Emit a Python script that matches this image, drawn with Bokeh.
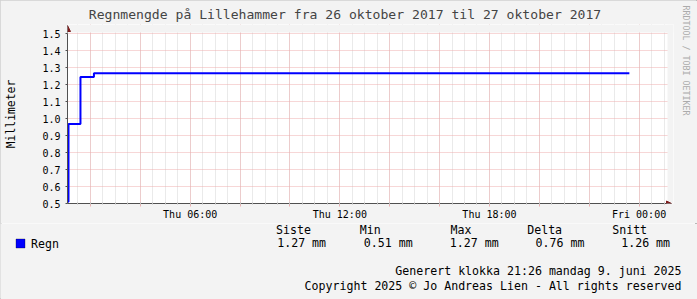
from bokeh.plotting import figure
from bokeh.layouts import column
from bokeh.models import (Range1d, FixedTicker, PrintfTickFormatter, Grid, Title, Label,
                          BoxAnnotation, Arrow, NormalHead, ColumnDataSource)
from bokeh.embed import file_html
from bokeh.resources import INLINE

# ---------------- data ----------------
title = "Regnmengde på Lillehammer fra 26 oktober 2017 til 27 oktober 2017"
y_label = "Millimeter"
series_name = "Regn"
# hours after Thu 26 Oct 2017 00:00
times = [1.08, 1.12, 1.60, 2.14, 23.61]
rain = [0.51, 0.968, 1.244, 1.266, 1.266]
x_start, x_end = 1.08, 25.1
y_start, y_end = 0.5, 1.5
x_label_ticks = [6, 12, 18, 24]
x_tick_labels = ["Thu 06:00", "Thu 12:00", "Thu 18:00", "Fri 00:00"]
x_major_ticks = [2, 4, 6, 8, 10, 12, 14, 16, 18, 20, 22, 24]
x_minor_ticks = [1.5 + 0.5 * i for i in range(48)]
y_ticks = [0.5, 0.6, 0.7, 0.8, 0.9, 1.0, 1.1, 1.2, 1.3, 1.4, 1.5]
stat_headers = ["Siste", "Min", "Max", "Delta", "Snitt"]
stat_values = [1.27, 0.51, 1.27, 0.76, 1.26]
stat_unit = "mm"
generated = "Generert klokka 21:26 mandag 9. juni 2025"
copyright_text = "Copyright 2025 © Jo Andreas Lien - All rights reserved"
watermark = "RRDTOOL / TOBI OETIKER"

# ---------------- layout ----------------
W = 697
H1, H2 = 223, 76
PL, PR, PT, PB = 67, 668, 33, 203        # white plot area (canvas px)
FR, FT = 675, 24                          # extended frame right / top
FONT = "DejaVu Sans Mono"
BG = "#F3F3F3"
PINK = "#EFAEAE"
GREY = "#D4D4D4"
AXIS = "#505050"

xpx = (x_end - x_start) / (PR - PL)       # data units per px
ypx = (y_end - y_start) / (PB - PT)
xr_end = x_end + (FR - PR) * xpx
yr_end = y_end + (PT - FT) * ypx

p = figure(width=W, height=H1, output_backend="svg", toolbar_location=None,
           x_range=Range1d(x_start, xr_end), y_range=Range1d(y_start, yr_end),
           min_border_left=PL, min_border_right=W - FR,
           min_border_top=FT, min_border_bottom=H1 - PB)
p.border_fill_color = BG
p.background_fill_color = "white"
p.outline_line_color = None
p.grid.visible = False

p.title.text = title
p.title.text_font = FONT
p.title.text_font_size = "13.1px"
p.title.text_font_style = "normal"
p.title.align = "left"
p.title.offset = 88.3 - PL
p.title.vertical_align = "bottom"
p.title.standoff = 6

# axes
xa = p.xaxis[0]
xa.bounds = (x_start, x_end)
xa.ticker = FixedTicker(ticks=x_major_ticks, minor_ticks=x_minor_ticks)
overrides = {t: "" for t in x_major_ticks}
for t, lab in zip(x_label_ticks, x_tick_labels):
    overrides[t] = lab
xa.major_label_overrides = overrides
xa.axis_line_color = AXIS
xa.major_tick_line_color = PINK
xa.major_tick_in = 0
xa.major_tick_out = 3
xa.minor_tick_line_color = "#BBBBBB"
xa.minor_tick_in = 1
xa.minor_tick_out = 1
xa.major_label_standoff = 2
xa.major_label_text_font = FONT
xa.major_label_text_font_size = "10px"
xa.major_label_text_color = "black"

ya = p.yaxis[0]
ya.bounds = (y_start, y_end)
ya.ticker = FixedTicker(ticks=y_ticks, minor_ticks=[])
ya.formatter = PrintfTickFormatter(format="%.1f")
ya.axis_line_color = AXIS
ya.major_tick_line_color = AXIS
ya.major_tick_in = 0
ya.major_tick_out = 2
ya.minor_tick_line_color = None
ya.major_label_standoff = 5
ya.major_label_text_font = FONT
ya.major_label_text_font_size = "10px"
ya.major_label_text_color = "black"
ya.axis_label = y_label
ya.axis_label_text_font = FONT
ya.axis_label_text_font_size = "11.4px"
ya.axis_label_text_font_style = "normal"
ya.axis_label_text_color = "black"
ya.axis_label_standoff = 21

# watermark on the right
p.add_layout(Title(text=watermark, text_font=FONT, text_font_size="8.3px",
                   text_font_style="normal", text_color="#ABABAB",
                   align="left", offset=5 - FT, vertical_align="middle",
                   standoff=12), "right")

# grids
xg = Grid(dimension=0, ticker=FixedTicker(ticks=x_major_ticks, minor_ticks=x_minor_ticks),
          grid_line_color=PINK, grid_line_dash="1 1",
          minor_grid_line_color=GREY, minor_grid_line_dash="1 1")
yg = Grid(dimension=1, ticker=FixedTicker(ticks=y_ticks, minor_ticks=[]),
          grid_line_color=PINK, grid_line_dash="1 1")
p.add_layout(xg)
p.add_layout(yg)

# cover frame extension outside the white plot area
p.add_layout(BoxAnnotation(left=x_start, right=xr_end, bottom=y_end + 1.0 * ypx, top=yr_end,
                           fill_color=BG, fill_alpha=1, line_color=None, level="glyph"))
p.add_layout(BoxAnnotation(left=x_end + 1.0 * xpx, right=xr_end, bottom=y_start, top=yr_end,
                           fill_color=BG, fill_alpha=1, line_color=None, level="glyph"))

# series
src = ColumnDataSource(dict(t=times, v=rain))
p.step("t", "v", source=src, mode="after", line_color="#0000FF", line_width=2)

# axis arrows
arrow_col = "#7E1C1C"
p.add_layout(Arrow(end=NormalHead(size=5, fill_color=arrow_col, line_color=arrow_col),
                   x_start=x_end, y_start=y_start, x_end=x_end + 5 * xpx, y_end=y_start,
                   line_color=AXIS, line_width=1))
p.add_layout(Arrow(end=NormalHead(size=6, fill_color=arrow_col, line_color=arrow_col),
                   x_start=x_start, y_start=y_end, x_end=x_start, y_end=y_end + 8 * ypx,
                   line_color=AXIS, line_width=1))

# ---------------- legend / footer strip ----------------
q = figure(width=W, height=H2, output_backend="svg", toolbar_location=None,
           x_range=Range1d(0, W), y_range=Range1d(H2, 0),
           x_axis_type=None, y_axis_type=None, min_border=0)
q.border_fill_color = BG
q.background_fill_color = BG
q.outline_line_color = None
q.grid.visible = False
for fig in (p, q):
    try:
        fig.frame_align = False
    except Exception:
        pass


def label(cx, cy, text, size="11.6px", align="left", color="black"):
    q.add_layout(Label(x=cx, y=cy - H1, text=text, text_font=FONT, text_font_size=size,
                       text_align=align, text_baseline="middle", text_color=color))


q.add_layout(BoxAnnotation(left=15.5, right=24.5, top=238.5 - H1, bottom=247.5 - H1,
                           fill_color="#0000FF", fill_alpha=1, line_color="black",
                           line_width=1))
label(30.5, 243, series_name)
header_x = [275.5, 359.3, 450.0, 526.7, 611.7]
value_x = [276.7, 363.3, 449.3, 535.0, 620.7]
for hx, h in zip(header_x, stat_headers):
    label(hx, 229.5, h)
for vx, v in zip(value_x, stat_values):
    label(vx, 242.5, f"{v:.2f} {stat_unit}")
label(681, 270.5, generated, align="right")
label(681, 285.5, copyright_text, align="right")

layout = column(p, q, spacing=0)
layout.styles = {"outline": "2px outset #D0D0D0", "outline-offset": "-2px"}

open("out.html", "w").write(file_html(layout, INLINE))
